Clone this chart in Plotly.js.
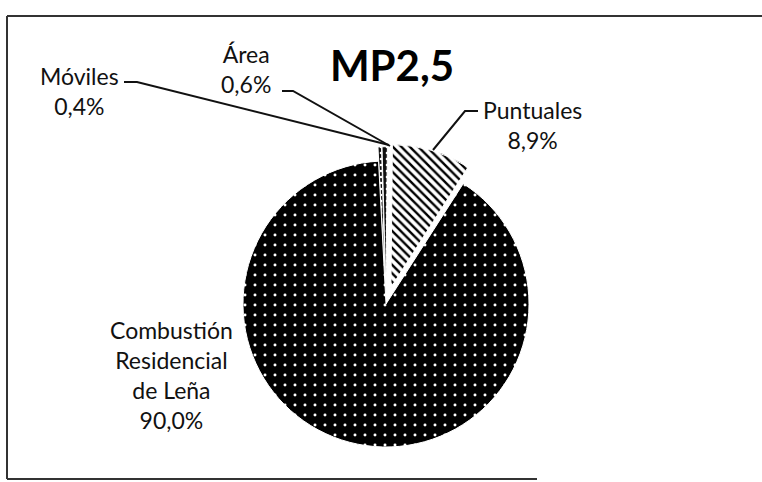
<!DOCTYPE html>
<html>
<head>
<meta charset="utf-8">
<script src="https://cdn.plot.ly/plotly-3.0.1.min.js"></script>
<style>
  html, body { margin: 0; padding: 0; background: #fff; }
  #chart { width: 762px; height: 482px; }
</style>
</head>
<body>
<div id="chart"></div>
<script>
// ---- data ----
const categories = ['Móviles', 'Área', 'Puntuales', 'Combustión Residencial de Leña'];
const labelLines = [['Móviles'], ['Área'], ['Puntuales'], ['Combustión', 'Residencial', 'de Leña']];
const shares = [0.4, 0.6, 8.9, 90.0];
const chartTitle = 'MP2,5';

// ---- styling ----
const W = 762, H = 482;
const px = x => x / W;
const py = y => 1 - y / H;
const FONT = 'Lato, "Open Sans", sans-serif';

// label block centres (pixels) and leader-line paths (pixels)
const labelPos = [[79, 91], [246, 69], [532, 125], [171, 375]];
const leaders = [
  [[124, 82], [137, 82], [389, 145]],
  [[282, 91], [293, 91], [390, 146]],
  [[478, 111], [465, 111], [433, 150]],
  null
];

function fmt(v) { return v.toFixed(1).replace('.', ',') + '%'; }

const maxPull = 0.12;
const trace = {
  type: 'pie',
  labels: categories,
  values: shares,
  sort: false,
  direction: 'clockwise',
  rotation: -3,
  pull: [0.1, 0.1, 0.12, 0],
  textinfo: 'none',
  hoverinfo: 'label+percent',
  showlegend: false,
  domain: {
    x: [px(386 - 143 * (1 + maxPull)), px(386 + 143 * (1 + maxPull))],
    y: [py(304 + 143 * (1 + maxPull)), py(304 - 143 * (1 + maxPull))]
  },
  marker: {
    colors: ['#111', '#111', '#ffffff', '#000000'],
    line: { color: '#ffffff', width: 1 },
    pattern: {
      shape: ['.', '.', '\\', '.'],
      fgcolor: ['#ffffff', '#ffffff', '#000000', '#ffffff'],
      bgcolor: ['#111111', '#111111', '#ffffff', '#000000'],
      size: [6, 6, 6, 10],
      solidity: [0.15, 0.15, 0.4, 0.07],
      fillmode: 'replace'
    }
  }
};

const annotations = categories.map((c, i) => ({
  xref: 'paper', yref: 'paper',
  x: px(labelPos[i][0]), y: py(labelPos[i][1]),
  xanchor: 'center', yanchor: 'middle',
  text: labelLines[i].concat([fmt(shares[i])]).join('<br>'),
  showarrow: false,
  align: 'center',
  font: { family: FONT, size: 23, color: '#111' }
}));

const shapes = [];
leaders.forEach(l => {
  if (!l) return;
  const d = l.map((p, k) => (k ? 'L' : 'M') + px(p[0]) + ',' + py(p[1])).join(' ');
  shapes.push({ type: 'path', xref: 'paper', yref: 'paper', path: d,
    line: { color: '#111', width: 2 } });
});
// frame
shapes.push({ type: 'line', xref: 'paper', yref: 'paper', x0: px(7), y0: py(16), x1: px(762), y1: py(16), line: { color: '#333', width: 2 } });
shapes.push({ type: 'line', xref: 'paper', yref: 'paper', x0: px(7), y0: py(16), x1: px(7), y1: py(479), line: { color: '#333', width: 2 } });
shapes.push({ type: 'line', xref: 'paper', yref: 'paper', x0: px(7), y0: py(479), x1: px(537), y1: py(479), line: { color: '#333', width: 2 } });

const layout = {
  width: W, height: H,
  margin: { l: 0, r: 0, t: 0, b: 0 },
  paper_bgcolor: '#ffffff',
  plot_bgcolor: '#ffffff',
  title: {
    text: '<b>' + chartTitle + '</b>',
    x: px(392), y: py(66), xanchor: 'center', yanchor: 'middle',
    font: { family: FONT, size: 42, color: '#000' }
  },
  annotations: annotations,
  shapes: shapes
};

Plotly.newPlot('chart', [trace], layout, { displayModeBar: false, staticPlot: true });
</script>
</body>
</html>
